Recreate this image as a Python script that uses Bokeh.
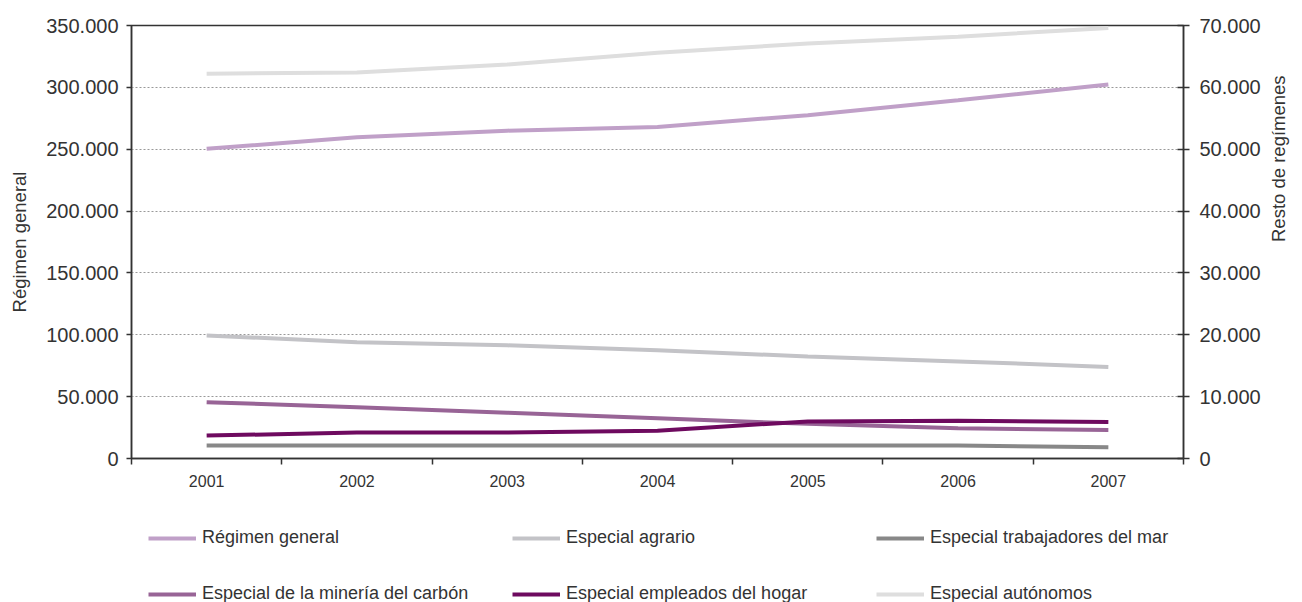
import math
from bokeh.plotting import figure
from bokeh.layouts import column
from bokeh.models import (Range1d, LinearAxis, FixedTicker, CustomJSTickFormatter,
                          Legend, LegendItem, Grid)
from bokeh.embed import file_html
from bokeh.resources import INLINE

# ---------------- data ----------------
years = ["2001", "2002", "2003", "2004", "2005", "2006", "2007"]
regimen_general = [250300, 259700, 265000, 268000, 277500, 289500, 302300]
especial_agrario = [19900, 18800, 18300, 17500, 16500, 15700, 14800]
especial_mar = [2100, 2100, 2100, 2100, 2100, 2100, 1800]
especial_mineria = [9100, 8300, 7400, 6500, 5600, 4900, 4600]
especial_hogar = [3700, 4200, 4200, 4500, 6000, 6100, 5900]
especial_autonomos = [62200, 62400, 63700, 65600, 67100, 68200, 69600]

left_ticks = [0, 50000, 100000, 150000, 200000, 250000, 300000, 350000]
right_ticks = [0, 10000, 20000, 30000, 40000, 50000, 60000, 70000]
grid_ticks = [50000, 100000, 150000, 200000, 250000, 300000]

left_title = "Régimen general"
right_title = "Resto de regímenes"

series_names = ["Régimen general", "Especial agrario", "Especial trabajadores del mar",
                "Especial de la minería del carbón", "Especial empleados del hogar",
                "Especial autónomos"]
series_values = [regimen_general, especial_agrario, especial_mar,
                 especial_mineria, especial_hogar, especial_autonomos]
series_colors = ["#c0a0c8", "#c3c3c7", "#888888", "#986496", "#6e0a5f", "#dedede"]
series_axis = [None, "resto", "resto", "resto", "resto", "resto"]

TXT = "#333333"
AX = "#333333"
FONT = "Liberation Sans"

# category slots: one unit per year, centred at i + 0.5
xpos = [i + 0.5 for i in range(len(years))]

chart = figure(x_range=Range1d(0, len(years)), y_range=Range1d(0, 350000),
               width=1302, height=500, output_backend="svg", toolbar_location=None,
               x_axis_location=None, y_axis_location=None,
               min_border_left=131, min_border_right=119, min_border_top=25, min_border_bottom=42)
chart.extra_y_ranges = {"resto": Range1d(0, 70000)}
chart.outline_line_color = AX
chart.outline_line_width = 1.5
chart.background_fill_color = "white"
chart.border_fill_color = "white"
for g in chart.grid:
    g.visible = False

grid = Grid(dimension=1, ticker=FixedTicker(ticks=grid_ticks),
            grid_line_color="#999999", grid_line_dash="2 2", grid_line_width=1)
chart.add_layout(grid)

fmt_code = r"return Math.round(tick).toString().replace(/\B(?=(\d{3})+(?!\d))/g, '.');"

left = LinearAxis(ticker=FixedTicker(ticks=left_ticks),
                  formatter=CustomJSTickFormatter(code=fmt_code),
                  axis_label=left_title)
right = LinearAxis(y_range_name="resto", ticker=FixedTicker(ticks=right_ticks),
                   formatter=CustomJSTickFormatter(code=fmt_code),
                   axis_label=right_title, axis_label_orientation=math.pi / 2)
for ax in (left, right):
    ax.axis_line_color = AX
    ax.axis_line_width = 1.5
    ax.major_tick_line_color = AX
    ax.major_tick_line_width = 1.5
    ax.minor_tick_line_color = None
    ax.major_label_text_font = FONT
    ax.major_label_text_font_size = "20px"
    ax.major_label_text_color = TXT
    ax.axis_label_text_font = FONT
    ax.axis_label_text_font_size = "18.5px"
    ax.axis_label_text_font_style = "normal"
    ax.axis_label_text_color = TXT
left.major_tick_out = 5
left.major_tick_in = 0
left.major_label_standoff = 8
left.axis_label_standoff = 13
right.major_tick_out = 6
right.major_tick_in = 6
right.major_label_standoff = 10
right.axis_label_standoff = 15
chart.add_layout(left, "left")
chart.add_layout(right, "right")

xaxis = LinearAxis(ticker=FixedTicker(ticks=xpos, minor_ticks=list(range(len(years) + 1))),
                   formatter=CustomJSTickFormatter(args=dict(labels=years),
                                                   code="return labels[Math.floor(tick)];"))
xaxis.axis_line_color = AX
xaxis.axis_line_width = 1.5
xaxis.major_tick_line_color = None
xaxis.major_tick_out = 0
xaxis.major_tick_in = 0
xaxis.minor_tick_line_color = AX
xaxis.minor_tick_line_width = 1.5
xaxis.minor_tick_out = 6
xaxis.minor_tick_in = 0
xaxis.major_label_standoff = 10
xaxis.major_label_text_font = FONT
xaxis.major_label_text_font_size = "16px"
xaxis.major_label_text_color = TXT
chart.add_layout(xaxis, "below")

for name, vals, color, rng in zip(series_names, series_values, series_colors, series_axis):
    kw = {}
    if rng:
        kw["y_range_name"] = rng
    chart.line(xpos, vals, line_color=color, line_width=4, **kw)

# ---------------- legend strip below the chart ----------------
# The strip's frame is aligned with the chart frame by the column layout; its
# y range (0..1) lies far below every series value, so only the legend shows.
leg_fig = figure(x_range=Range1d(0, len(years)), y_range=Range1d(0, 1),
                 width=1302, height=102, output_backend="svg", toolbar_location=None,
                 x_axis_location=None, y_axis_location=None,
                 min_border_left=0, min_border_right=0, min_border_top=0, min_border_bottom=0)
leg_fig.outline_line_color = None
leg_fig.background_fill_color = "white"
leg_fig.border_fill_color = "white"
for g in leg_fig.grid:
    g.visible = False

items = []
for name, vals, color in zip(series_names, series_values, series_colors):
    r = leg_fig.line(xpos, vals, line_color=color, line_width=4)
    items.append(LegendItem(label=name, renderers=[r]))

legend = Legend(items=items, location=(17, -2), orientation="horizontal", ncols=3,
                glyph_width=48, glyph_height=20, label_height=20, label_width=275,
                spacing=35, label_standoff=6, padding=0, margin=0,
                border_line_color=None, background_fill_alpha=0,
                label_text_font=FONT, label_text_font_size="18px", label_text_color=TXT)
leg_fig.add_layout(legend, "center")

p = column(chart, leg_fig, spacing=0)
open("out.html", "w").write(file_html(p, INLINE))
